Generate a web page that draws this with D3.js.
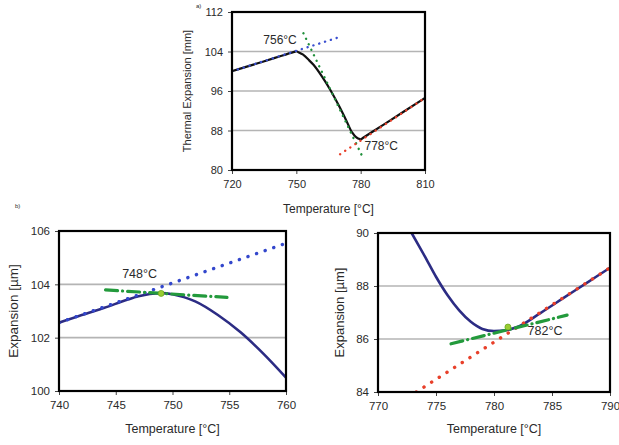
<!DOCTYPE html>
<html><head><meta charset="utf-8">
<script src="https://cdn.jsdelivr.net/npm/d3@7"></script>
<style>
html,body{margin:0;padding:0;background:#fff;}
svg text{font-family:"Liberation Sans",Arial,sans-serif;fill:#2a2a2a;}
</style></head>
<body><svg id="c" width="619" height="445"></svg>
<script>
// ---------- DATA ----------
// Panel a) : thermal expansion vs temperature
const topTemps = [720, 730, 740, 749, 750, 751, 753, 756, 758, 762, 766, 770, 773, 776, 778, 779, 780, 781, 790, 800, 810];
const topExp   = [100, 101.35, 102.7, 103.92, 104.05, 103.85, 103.4, 102.2, 101.3, 98.9, 96.1, 92.9, 90.3, 87.6, 86.6, 86.35, 86.2, 86.48, 89.0, 91.8, 94.6];
const topXTicks = [720, 750, 780, 810];
const topYTicks = [80, 88, 96, 104, 112];
const topBlueTangent  = [[720, 100], [770, 106.9]];
const topGreenTangent = [[753.3, 107.7], [780.5, 83.0]];
const topRedTangent   = [[770.4, 83.2], [810, 94.6]];
const topLabels = [{t: 742.4, e: 106.2, text: "756°C", anchor: "middle"},
                   {t: 781.8, e: 84.6, text: "778°C", anchor: "start"}];

// Panel b) left : zoom around 748 °C
const blTemps = [740, 742, 744, 746, 747, 748, 749, 750, 751, 752, 754, 756, 758, 760];
const blExp   = [102.56, 102.85, 103.12, 103.42, 103.55, 103.64, 103.67, 103.63, 103.52, 103.36, 102.85, 102.2, 101.4, 100.5];
const blXTicks = [740, 745, 750, 755, 760];
const blYTicks = [100, 102, 104, 106];
const blBlueTangent  = [[740, 102.56], [760, 105.54]];
const blGreenTangent = [[744.1, 103.79], [754.8, 103.51]];
const blPoint = [749.0, 103.66];
const blLabel = {t: 747.1, e: 104.35, text: "748°C"};

// Panel b) right : zoom around 782 °C
const brTemps = [772.9, 774, 775, 776, 777, 778, 779, 780, 781, 782, 784, 786, 788, 790];
const brExp   = [90.0, 89.15, 88.35, 87.65, 87.08, 86.65, 86.38, 86.3, 86.33, 86.45, 86.98, 87.55, 88.12, 88.69];
const brXTicks = [770, 775, 780, 785, 790];
const brYTicks = [84, 86, 88, 90];
const brRedTangent   = [[773.3, 84.0], [790, 88.69]];
const brGreenTangent = [[776.3, 85.82], [786.3, 86.9]];
const brPoint = [781.2, 86.45];
const brLabel = {t: 784.4, e: 86.26, text: "782°C"};

// ---------- DRAW ----------
const svg = d3.select("#c");
const fmt = d3.format("d");

function panel(o) {
  const x = d3.scaleLinear().domain(o.xDomain).range([o.left, o.right]);
  const y = d3.scaleLinear().domain(o.yDomain).range([o.bottom, o.top]);
  const g = svg.append("g");
  const clipId = "clip" + Math.round(o.left);
  g.append("clipPath").attr("id", clipId).append("rect")
    .attr("x", o.left).attr("y", o.top).attr("width", o.right - o.left).attr("height", o.bottom - o.top);

  // grid
  g.selectAll(".grid").data(o.yTicks.filter(v => v > o.yDomain[0] && v < o.yDomain[1])).enter()
    .append("line").attr("x1", o.left).attr("x2", o.right)
    .attr("y1", d => y(d)).attr("y2", d => y(d))
    .attr("stroke", "#b4b4b4").attr("stroke-width", 1.6);

  // axes
  const ax = g.append("g").attr("transform", `translate(0,${o.bottom})`)
    .call(d3.axisBottom(x).tickValues(o.xTicks).tickFormat(fmt).tickSize(4).tickSizeOuter(0).tickPadding(6));
  const ay = g.append("g").attr("transform", `translate(${o.left},0)`)
    .call(d3.axisLeft(y).tickValues(o.yTicks).tickFormat(fmt).tickSize(4).tickSizeOuter(0).tickPadding(5));
  [ax, ay].forEach(a => {
    a.select(".domain").remove();
    a.selectAll("line").attr("stroke", "#444").attr("stroke-width", 1);
    a.selectAll("text").attr("font-size", o.tickFont).attr("fill", "#2a2a2a")
      .style("font-family", '"Liberation Sans",Arial,sans-serif');
  });

  const line = d3.line().x(d => x(d[0])).y(d => y(d[1]));
  const plot = g.append("g").attr("clip-path", `url(#${clipId})`);

  // data curve
  plot.append("path")
    .datum(o.temps.map((t, i) => [t, o.exp[i]]))
    .attr("d", d3.line().x(d => x(d[0])).y(d => y(d[1])).curve(d3.curveMonotoneX))
    .attr("fill", "none").attr("stroke", o.curveColor).attr("stroke-width", o.curveWidth)
    .attr("stroke-linejoin", "round");

  // tangents
  (o.tangents || []).forEach(tg => {
    plot.append("path").datum(tg.pts).attr("d", line)
      .attr("fill", "none").attr("stroke", tg.color).attr("stroke-width", tg.width)
      .attr("stroke-dasharray", tg.dash).attr("stroke-linecap", tg.cap || "round");
  });

  if (o.point) {
    plot.append("circle").attr("cx", x(o.point[0])).attr("cy", y(o.point[1])).attr("r", 3)
      .attr("fill", "#9acd32").attr("stroke", "#6aa820").attr("stroke-width", 0.8);
  }

  // frame
  g.append("rect").attr("x", o.left).attr("y", o.top)
    .attr("width", o.right - o.left).attr("height", o.bottom - o.top)
    .attr("fill", "none").attr("stroke", "#000").attr("stroke-width", 2.2);

  // annotations
  (o.labels || []).forEach(l => {
    g.append("text").attr("x", x(l.t)).attr("y", y(l.e))
      .attr("text-anchor", l.anchor || "middle").attr("dominant-baseline", "middle")
      .attr("font-size", o.labelFont).text(l.text);
  });

  // titles
  g.append("text").attr("x", (o.left + o.right) / 2).attr("y", o.xTitleY)
    .attr("text-anchor", "middle").attr("dominant-baseline", "middle")
    .attr("font-size", o.xTitleFont).text("Temperature [°C]");
  g.append("text").attr("transform", `translate(${o.yTitleX},${(o.top + o.bottom) / 2}) rotate(-90)`)
    .attr("text-anchor", "middle").attr("dominant-baseline", "middle")
    .attr("font-size", o.yTitleFont).text(o.yTitle);
}

panel({
  left: 232, right: 425, top: 12, bottom: 170,
  xDomain: [720, 810], yDomain: [80, 112], xTicks: topXTicks, yTicks: topYTicks,
  temps: topTemps, exp: topExp, curveColor: "#111", curveWidth: 2.2,
  tangents: [
    {pts: topBlueTangent, color: "#3a4fd0", width: 2.4, dash: "0.1,6"},
    {pts: topGreenTangent, color: "#1f8f3a", width: 2.4, dash: "0.1,6"},
    {pts: topRedTangent, color: "#e8402a", width: 2.4, dash: "0.1,6"}
  ],
  labels: topLabels, tickFont: "11px", labelFont: "12px",
  xTitleY: 210, xTitleFont: "12px", yTitleX: 188, yTitleFont: "11px", yTitle: "Thermal Expansion [mm]"
});

panel({
  left: 59, right: 286, top: 231, bottom: 391,
  xDomain: [740, 760], yDomain: [100, 106], xTicks: blXTicks, yTicks: blYTicks,
  temps: blTemps, exp: blExp, curveColor: "#2c2c84", curveWidth: 2.6,
  tangents: [
    {pts: blBlueTangent, color: "#3347cc", width: 3.4, dash: "0.1,9"},
    {pts: blGreenTangent, color: "#239a3c", width: 3.2, dash: "12,5,0.1,5", cap: "round"}
  ],
  point: blPoint,
  labels: [blLabel], tickFont: "11.5px", labelFont: "12.5px",
  xTitleY: 430, xTitleFont: "12.5px", yTitleX: 14, yTitleFont: "13.5px", yTitle: "Expansion [µm]"
});

panel({
  left: 378, right: 610, top: 233, bottom: 392,
  xDomain: [770, 790], yDomain: [84, 90], xTicks: brXTicks, yTicks: brYTicks,
  temps: brTemps, exp: brExp, curveColor: "#2c2c84", curveWidth: 2.6,
  tangents: [
    {pts: brRedTangent, color: "#e8402a", width: 3.4, dash: "0.1,9"},
    {pts: brGreenTangent, color: "#239a3c", width: 3.2, dash: "12,5,0.1,5", cap: "round"}
  ],
  point: brPoint,
  labels: [brLabel], tickFont: "11.5px", labelFont: "12.5px",
  xTitleY: 430, xTitleFont: "12.5px", yTitleX: 341, yTitleFont: "13px", yTitle: "Expansion [µm]"
});

// panel tags
svg.append("text").attr("x", 15).attr("y", 208).attr("font-size", "6px").attr("fill", "#555").text("b)");
svg.append("text").attr("x", 196).attr("y", 8).attr("font-size", "6px").attr("fill", "#555").text("a)");
</script>
</body></html>
